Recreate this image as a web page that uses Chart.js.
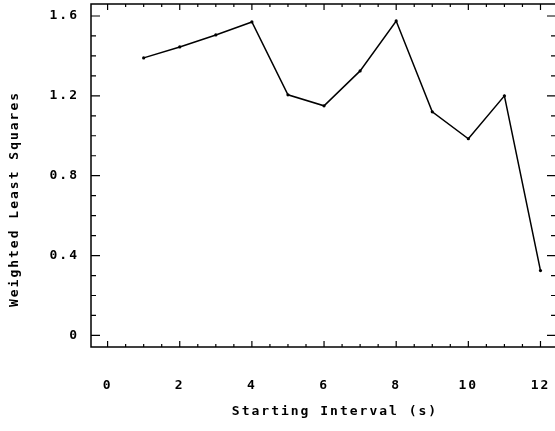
<!DOCTYPE html>
<html>
<head>
<meta charset="utf-8">
<script src="https://cdn.jsdelivr.net/npm/chart.js@4.4.1/dist/chart.umd.min.js"></script>
<style>
	html, body { margin: 0; padding: 0; background: #ffffff; overflow: hidden; }
	#wrap { width: 560px; height: 431px; position: relative; }
</style>
</head>
<body>
<div id="wrap"><canvas id="chart"></canvas></div>
<script>

const intervals = [1, 2, 3, 4, 5, 6, 7, 8, 9, 10, 11, 12];
const wlsValues = [1.39, 1.445, 1.505, 1.57, 1.205, 1.15, 1.325, 1.575, 1.12, 0.985, 1.2, 0.325];
const xLabelValues = [0, 2, 4, 6, 8, 10, 12];
const yLabelValues = [0, 0.4, 0.8, 1.2, 1.6];
const xTitle = 'Starting Interval (s)';
const yTitle = 'Weighted Least Squares';

const font = {family: '"DejaVu Sans Mono", monospace', size: 13, weight: 'bold'};


function isLabelled(list, value) {
	return list.some(function(v) { return Math.abs(v - value) < 1e-6; });
}


function fixedSize(prop, size) {
	return function(scale) {
		scale[prop] = size;
		scale.paddingTop = 0;
		scale.paddingBottom = 0;
		scale.paddingLeft = 0;
		scale.paddingRight = 0;
	};
}


// ticks pointing inwards on all four sides, plus frame and axis titles
const framePlugin = {
	id: 'frame',

	beforeDraw(chart) {
		chart.ctx.letterSpacing = '2px';
	},

	afterDraw(chart) {
		const ctx = chart.ctx;
		const area = chart.chartArea;
		const xs = chart.scales.x, ys = chart.scales.y;

		ctx.save();
		ctx.strokeStyle = '#000000';
		ctx.lineWidth = 1.5;
		ctx.strokeRect(area.left, area.top, area.right - area.left, area.bottom - area.top);

		ctx.lineWidth = 1.2;
		ctx.beginPath();
		xs.ticks.forEach(function(t) {
			const px = xs.getPixelForValue(t.value);
			const len = isLabelled(xLabelValues, t.value) ? 6 : 3;
			ctx.moveTo(px, area.bottom); ctx.lineTo(px, area.bottom - len);
			ctx.moveTo(px, area.top); ctx.lineTo(px, area.top + len);
		});
		ys.ticks.forEach(function(t) {
			const py = ys.getPixelForValue(t.value);
			const len = isLabelled(yLabelValues, t.value) ? 9 : 5;
			ctx.moveTo(area.left, py); ctx.lineTo(area.left + len, py);
			ctx.moveTo(area.right, py); ctx.lineTo(area.right - len, py);
		});
		ctx.stroke();

		ctx.fillStyle = '#000000';
		ctx.font = 'bold 13px "DejaVu Sans Mono", monospace';
		ctx.letterSpacing = '2px';
		ctx.textAlign = 'center';
		ctx.textBaseline = 'middle';
		ctx.fillText(xTitle, area.left + 244, area.bottom + 65);

		ctx.translate(15, area.top + 195);
		ctx.rotate(-Math.PI / 2);
		ctx.fillText(yTitle, 0, 0);
		ctx.restore();
	}
};


const config = {
	type: 'line',
	data: {
		datasets: [{
			data: intervals.map((x, i) => ({x: x, y: wlsValues[i]})),
			borderColor: '#000000',
			backgroundColor: '#000000',
			borderWidth: 1.5,
			pointRadius: 1.6,
			pointBorderWidth: 0,
			tension: 0,
		}]
	},
	options: {
		responsive: true,
		maintainAspectRatio: false,
		animation: false,
		layout: {padding: {top: 4, right: 0, left: 0, bottom: 0}},
		plugins: {
			legend: {display: false},
			tooltip: {enabled: false},
		},
		scales: {
			x: {
				type: 'linear',
				min: -0.46,
				max: 12.43,
				grid: {display: false, drawTicks: false},
				border: {display: false},
				afterFit: fixedSize('height', 84),
				ticks: {
					stepSize: 0.5,
					includeBounds: false,
					autoSkip: false,
					maxRotation: 0,
					padding: 31,
					color: '#000000',
					font: font,
					callback: (v) => isLabelled(xLabelValues, v) ? String(Math.round(v)) : '',
				},
			},
			y: {
				type: 'linear',
				min: -0.058,
				max: 1.66,
				grid: {display: false, drawTicks: false},
				border: {display: false},
				afterFit: fixedSize('width', 91),
				ticks: {
					stepSize: 0.1,
					includeBounds: false,
					autoSkip: false,
					padding: 12,
					color: '#000000',
					font: font,
					callback: (v) => isLabelled(yLabelValues, v) ? (Math.abs(v) < 1e-6 ? '0' : v.toFixed(1)) : '',
				},
			},
		},
	},
	plugins: [framePlugin],
};

new Chart(document.getElementById('chart'), config);

</script>
</body>
</html>
